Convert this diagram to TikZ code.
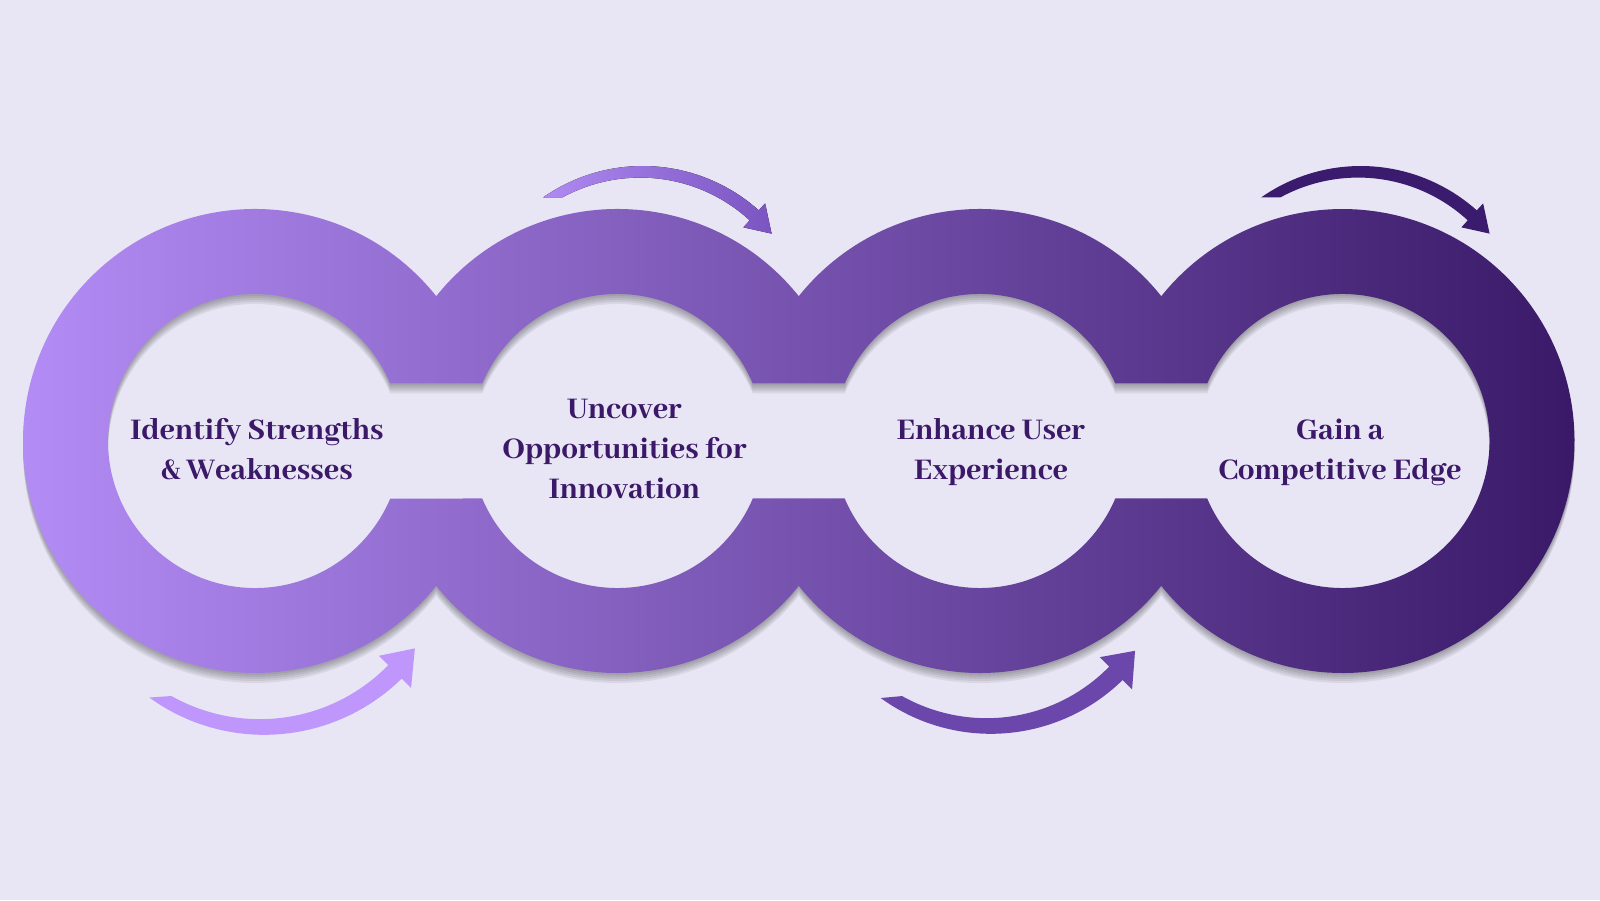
\documentclass[tikz,border=0pt]{standalone}
\usepackage{fontspec}
\newfontfamily\labfont{Abhaya Libre ExtraBold}
\definecolor{bg}{HTML}{E8E6F4}
\definecolor{ringL}{HTML}{B58EF8}
\definecolor{ringR}{HTML}{371765}
\definecolor{txt}{HTML}{3B1868}
\definecolor{arrA}{HTML}{BE96FC}
\definecolor{arrBL}{HTML}{B08AF2}
\definecolor{arrBR}{HTML}{7A54C0}
\definecolor{arrC}{HTML}{6B47AC}
\definecolor{arrD}{HTML}{3B1B6D}
\tikzset{
  lbl/.style={font=\labfont\fontsize{33}{40}\selectfont, text=txt, align=center, inner sep=0pt},
  shadowlayer/.style={fill=black, fill opacity=0.065, even odd rule},
}
\newcommand\ringpath{%
 (436.25,603.82) arc[start angle=38.62,end angle=321.38,radius=232]
 -- (436.25,314.18) arc[start angle=218.62,end angle=321.38,radius=232]
 -- (798.75,314.18) arc[start angle=218.62,end angle=321.38,radius=232]
 -- (1161.25,314.18) arc[start angle=218.62,end angle=501.38,radius=232]
 -- (1161.25,603.82) arc[start angle=38.62,end angle=141.38,radius=232]
 -- (798.75,603.82) arc[start angle=38.62,end angle=141.38,radius=232]
 -- cycle
 (390.29,516.5) arc[start angle=23.03,end angle=336.97,radius=147]
 -- (482.21,401.5) arc[start angle=203.03,end angle=336.97,radius=147]
 -- (844.71,401.5) arc[start angle=203.03,end angle=336.97,radius=147]
 -- (1207.21,401.5) arc[start angle=203.03,end angle=516.97,radius=147]
 -- (1115.29,516.5) arc[start angle=23.03,end angle=156.97,radius=147]
 -- (752.79,516.5) arc[start angle=23.03,end angle=156.97,radius=147]
 -- cycle}
% #1 style, #2 radius, #3 outer tail angle, #4 inner tail angle, #5 head base angle, #6 tip angle, #7 tail width, #8 head band width
\newcommand\curvarrow[8]{%
  \fill[#1] plot[domain=#3:#5,samples=40] (\x:{#2+0.5*(#7+(#8-#7)*(\x-(#3))/((#5)-(#3)))})
   -- (#5:{#2+1.2*#8}) -- (#6:#2) -- (#5:{#2-1.2*#8})
   -- plot[domain=#5:#4,samples=40] (\x:{#2-0.5*(#7+(#8-#7)*(\x-(#3))/((#5)-(#3)))}) -- cycle;}
\begin{document}
\begin{tikzpicture}[x=1pt,y=1pt]
\useasboundingbox (0,0) rectangle (1600,900);
\fill[bg] (0,0) rectangle (1600,900);
% soft shadow
\foreach \k in {2,4,6,8,10} {
  \fill[shadowlayer, yshift=-\k] \ringpath;
}
% ring chain
\shade[even odd rule, left color=ringL, right color=ringR] \ringpath;
% curved arrows
\curvarrow{shift={(262,361)}, fill=arrA}{188}{234.6}{240}{315}{324.4}{13}{19}
\curvarrow{shift={(988.7,354)}, fill=arrC}{180}{234.6}{240}{315}{324.4}{13}{19}
\curvarrow{shift={(641.4,560.2)}, left color=arrBL, right color=arrBR}{168}{124.6}{119.1}{47.8}{39.2}{10}{13.5}
\curvarrow{shift={(1359.4,560.2)}, fill=arrD}{168}{124.6}{119.1}{47.8}{39.2}{10}{13.5}
% labels
\node[lbl] (t1) at (257,451) {Identify Strengths\\\& Weaknesses};
\node[lbl] (t2) at (624.5,451) {Uncover\\Opportunities for\\Innovation};
\node[lbl] (t3) at (991,448) {Enhance User\\Experience};
\node[lbl] (t4) at (1340,448) {Gain a\\Competitive Edge};
\end{tikzpicture}
\end{document}
